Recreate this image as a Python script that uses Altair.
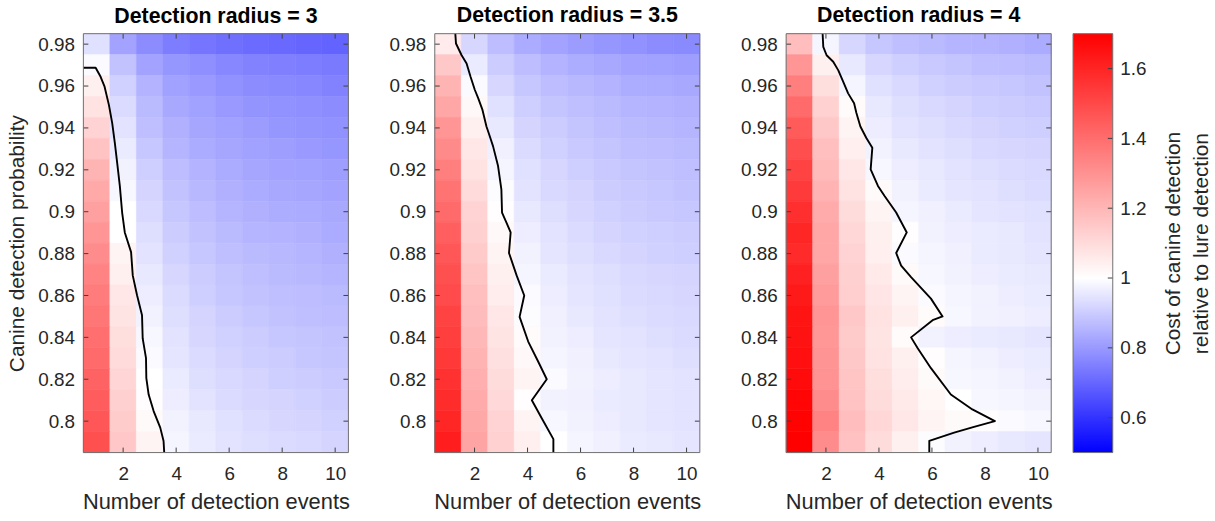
import altair as alt
import pandas as pd

# ---------------- data ----------------
events = [1, 2, 3, 4, 5, 6, 7, 8, 9, 10]
probs = [0.98, 0.97, 0.96, 0.95, 0.94, 0.93, 0.92, 0.91, 0.90, 0.89,
         0.88, 0.87, 0.86, 0.85, 0.84, 0.83, 0.82, 0.81, 0.80, 0.79]
radii = ["3", "3.5", "4"]

# cost ratio, rows = probs (top to bottom), columns = events 1..10
cost_r3 = [
    [0.94, 0.82, 0.775, 0.745, 0.73, 0.72, 0.71, 0.705, 0.70, 0.695],
    [0.99, 0.88, 0.82, 0.795, 0.78, 0.765, 0.755, 0.75, 0.745, 0.74],
    [1.04, 0.91, 0.85, 0.815, 0.80, 0.785, 0.775, 0.77, 0.765, 0.755],
    [1.08, 0.93, 0.865, 0.83, 0.815, 0.80, 0.79, 0.785, 0.78, 0.775],
    [1.12, 0.945, 0.875, 0.845, 0.825, 0.815, 0.805, 0.795, 0.79, 0.785],
    [1.165, 0.96, 0.89, 0.855, 0.835, 0.825, 0.815, 0.81, 0.80, 0.795],
    [1.205, 0.975, 0.905, 0.87, 0.85, 0.835, 0.825, 0.82, 0.815, 0.81],
    [1.235, 0.985, 0.915, 0.88, 0.86, 0.845, 0.835, 0.83, 0.825, 0.82],
    [1.26, 1.0, 0.925, 0.89, 0.87, 0.855, 0.845, 0.84, 0.835, 0.83],
    [1.29, 1.0, 0.935, 0.90, 0.88, 0.865, 0.855, 0.85, 0.845, 0.835],
    [1.315, 1.03, 0.945, 0.91, 0.89, 0.875, 0.865, 0.86, 0.855, 0.845],
    [1.34, 1.04, 0.955, 0.92, 0.90, 0.885, 0.875, 0.865, 0.86, 0.855],
    [1.36, 1.065, 0.965, 0.93, 0.905, 0.89, 0.88, 0.875, 0.87, 0.865],
    [1.375, 1.075, 0.975, 0.935, 0.915, 0.90, 0.89, 0.88, 0.875, 0.87],
    [1.395, 1.09, 0.985, 0.945, 0.92, 0.91, 0.90, 0.89, 0.885, 0.88],
    [1.41, 1.10, 0.99, 0.95, 0.93, 0.915, 0.905, 0.90, 0.89, 0.885],
    [1.43, 1.115, 1.0, 0.96, 0.935, 0.925, 0.915, 0.905, 0.90, 0.895],
    [1.445, 1.13, 1.005, 0.965, 0.945, 0.93, 0.92, 0.915, 0.91, 0.90],
    [1.46, 1.14, 1.015, 0.975, 0.955, 0.94, 0.93, 0.92, 0.915, 0.91],
    [1.48, 1.155, 1.03, 0.98, 0.96, 0.945, 0.935, 0.93, 0.925, 0.915],
]
cost_r35 = [
    [1.055, 0.92, 0.87, 0.835, 0.82, 0.805, 0.795, 0.785, 0.775, 0.77],
    [1.15, 0.96, 0.90, 0.87, 0.85, 0.84, 0.83, 0.82, 0.815, 0.81],
    [1.205, 0.99, 0.92, 0.89, 0.87, 0.86, 0.85, 0.84, 0.835, 0.83],
    [1.245, 1.02, 0.94, 0.905, 0.885, 0.875, 0.865, 0.855, 0.85, 0.845],
    [1.29, 1.04, 0.955, 0.915, 0.90, 0.885, 0.875, 0.865, 0.86, 0.855],
    [1.32, 1.065, 0.97, 0.93, 0.91, 0.895, 0.885, 0.875, 0.87, 0.865],
    [1.355, 1.08, 0.98, 0.94, 0.92, 0.905, 0.895, 0.885, 0.88, 0.875],
    [1.385, 1.10, 0.995, 0.945, 0.925, 0.915, 0.90, 0.895, 0.89, 0.88],
    [1.41, 1.12, 1.005, 0.955, 0.935, 0.92, 0.91, 0.90, 0.895, 0.89],
    [1.44, 1.13, 1.02, 0.965, 0.945, 0.93, 0.915, 0.91, 0.905, 0.90],
    [1.46, 1.145, 1.03, 0.975, 0.95, 0.935, 0.925, 0.915, 0.91, 0.905],
    [1.48, 1.16, 1.04, 0.98, 0.96, 0.945, 0.935, 0.925, 0.92, 0.915],
    [1.495, 1.175, 1.05, 0.99, 0.965, 0.95, 0.94, 0.93, 0.925, 0.92],
    [1.515, 1.185, 1.065, 0.995, 0.97, 0.955, 0.945, 0.935, 0.93, 0.925],
    [1.53, 1.195, 1.075, 1.01, 0.975, 0.965, 0.95, 0.945, 0.935, 0.93],
    [1.545, 1.205, 1.085, 1.02, 0.98, 0.97, 0.955, 0.95, 0.945, 0.935],
    [1.565, 1.22, 1.095, 1.03, 0.99, 0.975, 0.965, 0.955, 0.95, 0.945],
    [1.58, 1.23, 1.105, 1.005, 0.975, 0.97, 0.96, 0.955, 0.95, 0.945],
    [1.595, 1.24, 1.12, 1.03, 0.985, 0.975, 0.965, 0.955, 0.95, 0.945],
    [1.62, 1.25, 1.125, 1.045, 1.0, 0.98, 0.97, 0.96, 0.955, 0.95],
]
cost_r4 = [
    [1.18, 0.98, 0.92, 0.89, 0.875, 0.865, 0.855, 0.85, 0.845, 0.835],
    [1.29, 1.04, 0.955, 0.92, 0.905, 0.895, 0.885, 0.875, 0.87, 0.865],
    [1.355, 1.09, 0.98, 0.94, 0.925, 0.91, 0.90, 0.895, 0.89, 0.88],
    [1.41, 1.125, 1.01, 0.955, 0.935, 0.925, 0.915, 0.905, 0.90, 0.895],
    [1.45, 1.15, 1.03, 0.965, 0.945, 0.935, 0.925, 0.915, 0.91, 0.905],
    [1.485, 1.175, 1.045, 0.975, 0.955, 0.945, 0.935, 0.925, 0.92, 0.915],
    [1.515, 1.19, 1.065, 0.985, 0.965, 0.955, 0.945, 0.935, 0.93, 0.925],
    [1.54, 1.21, 1.08, 1.015, 0.975, 0.96, 0.95, 0.945, 0.935, 0.93],
    [1.57, 1.23, 1.095, 1.03, 0.98, 0.97, 0.96, 0.95, 0.945, 0.94],
    [1.595, 1.245, 1.11, 1.04, 1.005, 0.975, 0.965, 0.96, 0.955, 0.945],
    [1.585, 1.245, 1.12, 1.045, 0.99, 0.98, 0.97, 0.96, 0.955, 0.95],
    [1.61, 1.26, 1.13, 1.06, 1.015, 0.985, 0.975, 0.965, 0.96, 0.955],
    [1.63, 1.275, 1.135, 1.07, 1.03, 0.99, 0.98, 0.975, 0.965, 0.96],
    [1.645, 1.29, 1.15, 1.08, 1.04, 1.01, 0.985, 0.975, 0.97, 0.965],
    [1.65, 1.285, 1.145, 1.075, 1.01, 0.975, 0.965, 0.96, 0.955, 0.95],
    [1.66, 1.295, 1.15, 1.08, 1.04, 1.005, 0.98, 0.975, 0.965, 0.96],
    [1.67, 1.30, 1.16, 1.09, 1.05, 1.015, 0.985, 0.98, 0.975, 0.965],
    [1.685, 1.315, 1.165, 1.095, 1.06, 1.025, 1.0, 0.985, 0.98, 0.975],
    [1.695, 1.34, 1.18, 1.11, 1.065, 1.03, 1.015, 1.005, 0.99, 0.985],
    [1.70, 1.315, 1.17, 1.095, 1.04, 0.995, 0.975, 0.965, 0.955, 0.95],
]

# level-1 contour (break-even line)
contour_x_r3 = [0.5, 0.9625, 1.15, 1.3, 1.4625, 1.5875, 1.6875, 1.775, 1.875, 1.9625, 2.0625,
                2.3, 2.3625, 2.525, 2.7125, 2.7375, 2.8625, 2.875, 2.9625, 3.15, 3.4, 3.525, 3.55]
contour_y_r3 = [0.9687, 0.9687, 0.9644, 0.9597, 0.951, 0.9423, 0.9328, 0.9233, 0.9123, 0.8996, 0.8901,
                0.8807, 0.8696, 0.8601, 0.8506, 0.8395, 0.8301, 0.8206, 0.8127, 0.8048, 0.7969, 0.7905, 0.785]
contour_x_r35 = [1.275, 1.3, 1.5125, 1.7, 1.85, 2.0125, 2.1375, 2.3, 2.45, 2.575, 2.7, 2.8875, 3.0125, 3.0375,
                 3.2, 3.3625, 3.3, 3.5875, 3.875, 3.7, 4.025, 4.4, 4.725, 4.1625, 4.525, 4.975, 4.975]
contour_y_r35 = [0.985, 0.9803, 0.9747, 0.9708, 0.9644, 0.9581, 0.9542, 0.9486, 0.9407, 0.936, 0.9312, 0.9218,
                 0.9107, 0.8996, 0.8949, 0.8901, 0.8803, 0.8696, 0.86, 0.8498, 0.838, 0.8285, 0.82, 0.81,
                 0.8016, 0.7914, 0.785]
contour_x_r4 = [1.875, 1.9, 2.025, 2.275, 2.4625, 2.65, 2.8375, 3.0625, 3.15, 3.3, 3.525, 3.75, 3.6875, 3.9625,
                4.2125, 4.65, 5.05, 4.65, 4.8375, 5.2125, 5.9625, 6.4, 6.025, 5.2125, 5.4625, 5.9625, 6.7125,
                7.525, 8.375, 7.5875, 6.8375, 5.9, 5.9]
contour_y_r4 = [0.985, 0.9787, 0.9747, 0.9716, 0.9676, 0.9621, 0.9565, 0.9518, 0.9471, 0.9407, 0.9352, 0.9305,
                0.9202, 0.9123, 0.9075, 0.8996, 0.8901, 0.8803, 0.8743, 0.8688, 0.8585, 0.85, 0.8482, 0.84,
                0.8348, 0.8253, 0.8127, 0.8056, 0.80, 0.7973, 0.7945, 0.7906, 0.785]

x_ticks = [2, 4, 6, 8, 10]
y_ticks = [0.8, 0.82, 0.84, 0.86, 0.88, 0.9, 0.92, 0.94, 0.96, 0.98]
cbar_ticks = [0.6, 0.8, 1.0, 1.2, 1.4, 1.6]
cbar_range = [0.5, 1.7]

# ---------------- styling ----------------
W, H = 267, 422
CBW = 40
FONT = "Liberation Sans"
TXT = "#262626"
TICK = "#404040"
FRAME = "#707070"

color_scale = alt.Scale(domain=[0.5, 1.0, 1.7], range=["#0000ff", "#ffffff", "#ff0000"],
                        interpolate="rgb", clamp=True)
xscale = alt.Scale(domain=[0.5, 10.5], nice=False, zero=False)
yscale = alt.Scale(domain=[0.785, 0.985], nice=False, zero=False)


def x_enc(field):
    return alt.X(field, type="quantitative", scale=xscale,
                 axis=alt.Axis(values=x_ticks, tickSize=0, domain=False, grid=False,
                               labelFontSize=19, labelColor=TXT, labelFont=FONT, labelPadding=12,
                               title="Number of detection events", titleFontSize=22,
                               titleFont=FONT, titleFontWeight="normal", titleColor=TXT,
                               titlePadding=8))


def y_enc(field, show_title):
    return alt.Y(field, type="quantitative", scale=yscale,
                 axis=alt.Axis(values=y_ticks, format=".2~f", tickSize=0, domain=False, grid=False,
                               labelFontSize=19, labelColor=TXT, labelFont=FONT, labelPadding=9,
                               title="Canine detection probability" if show_title else None,
                               titleFontSize=21, titleFont=FONT, titleFontWeight="normal",
                               titleColor=TXT, titlePadding=10))


def frame(w, h):
    return alt.Chart(pd.DataFrame({"f": [0]})).mark_rect(
        fill=None, stroke=FRAME, strokeWidth=1
    ).encode(x=alt.value(0), x2=alt.value(w), y=alt.value(0), y2=alt.value(h))


def panel(vals, cx, cy, radius, show_ytitle):
    rows = [{"x": e, "y": p, "v": vals[i][j]}
            for i, p in enumerate(probs) for j, e in enumerate(events)]
    df = pd.DataFrame(rows)
    heat = (
        alt.Chart(df)
        .transform_calculate(x0="datum.x - 0.5", x1="datum.x + 0.5",
                             y0="datum.y - 0.005", y1="datum.y + 0.005")
        .mark_rect(strokeWidth=0.6)
        .encode(
            x=x_enc("x0"), x2="x1:Q",
            y=y_enc("y0", show_ytitle), y2="y1:Q",
            color=alt.Color("v:Q", scale=color_scale, legend=None),
            stroke=alt.Color("v:Q", scale=color_scale, legend=None),
        )
    )
    cdf = pd.DataFrame({"x0": cx, "y0": cy, "o": list(range(len(cx)))})
    line = (
        alt.Chart(cdf).mark_line(color="black", strokeWidth=1.9, strokeJoin="round")
        .encode(x=x_enc("x0"), y=y_enc("y0", show_ytitle), order="o:Q")
    )
    ydf = pd.DataFrame({"y0": y_ticks})
    xdf = pd.DataFrame({"x0": x_ticks})
    tl = alt.Chart(ydf).mark_rule(color=TICK, strokeWidth=1).encode(
        y=y_enc("y0", show_ytitle), x=alt.value(0), x2=alt.value(5))
    tr = alt.Chart(ydf).mark_rule(color=TICK, strokeWidth=1).encode(
        y=y_enc("y0", show_ytitle), x=alt.value(W - 5), x2=alt.value(W))
    tb = alt.Chart(xdf).mark_rule(color=TICK, strokeWidth=1).encode(
        x=x_enc("x0"), y=alt.value(H - 5), y2=alt.value(H))
    tt = alt.Chart(xdf).mark_rule(color=TICK, strokeWidth=1).encode(
        x=x_enc("x0"), y=alt.value(0), y2=alt.value(5))
    return alt.layer(heat, line, tl, tr, tb, tt, frame(W, H)).properties(
        width=W, height=H,
        title=alt.TitleParams(f"Detection radius = {radius}", fontSize=21.5, fontWeight="bold",
                              font=FONT, color="black", anchor="middle", offset=6),
    )


p1 = panel(cost_r3, contour_x_r3, contour_y_r3, radii[0], True)
p2 = panel(cost_r35, contour_x_r35, contour_y_r35, radii[1], False)
p3 = panel(cost_r4, contour_x_r4, contour_y_r4, radii[2], False)

# ---------------- colorbar ----------------
cbscale = alt.Scale(domain=cbar_range, nice=False, zero=False)


def cb_enc(field):
    return alt.Y(field, type="quantitative", scale=cbscale,
                 axis=alt.Axis(orient="right", values=cbar_ticks, format=".1~f", tickSize=0,
                               domain=False, grid=False, labelFontSize=19, labelColor=TXT,
                               labelFont=FONT, labelPadding=7,
                               title=["Cost of canine detection", "relative to lure detection"],
                               titleAngle=270, titleFontSize=21, titleFont=FONT,
                               titleFontWeight="normal", titleColor=TXT, titlePadding=10,
                               titleLineHeight=28))


cb_df = pd.DataFrame({"lo": [cbar_range[0]], "hi": [cbar_range[1]]})
white_at = (1.0 - cbar_range[0]) / (cbar_range[1] - cbar_range[0])
grad = alt.Chart(cb_df).mark_rect(
    color=alt.Gradient(gradient="linear",
                       stops=[alt.GradientStop(color="#0000ff", offset=0),
                              alt.GradientStop(color="#ffffff", offset=white_at),
                              alt.GradientStop(color="#ff0000", offset=1)],
                       x1=0, x2=0, y1=1, y2=0)
).encode(y=cb_enc("lo"), y2="hi:Q", x=alt.value(0), x2=alt.value(CBW))
cbt = alt.Chart(pd.DataFrame({"lo": cbar_ticks})).mark_rule(color=TICK, strokeWidth=1).encode(
    y=cb_enc("lo"), x=alt.value(CBW - 5), x2=alt.value(CBW))
cbar = alt.layer(grad, cbt, frame(CBW, H)).properties(width=CBW, height=H)

panels = alt.hconcat(p1, p2, p3, spacing=39)
chart = (
    alt.hconcat(panels, cbar, spacing=19)
    .properties(background="white", padding={"left": 7, "top": 3, "right": 3, "bottom": 5})
    .configure_view(stroke=None)
)

chart.save("out.html", embed_options={"renderer": "svg", "actions": False})
